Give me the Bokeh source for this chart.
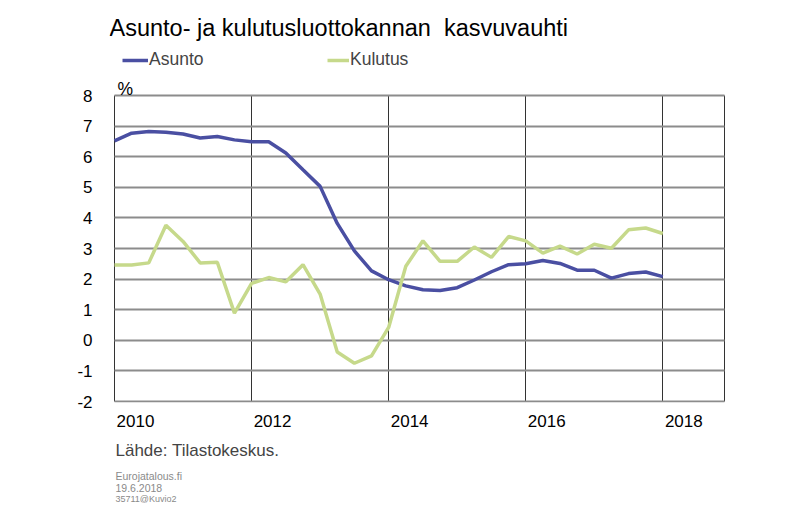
from bokeh.plotting import figure
from bokeh.models import Legend, LegendItem, FixedTicker, ColumnDataSource, Title, Label
from bokeh.embed import file_html
from bokeh.resources import INLINE

# quarterly observations 2010.0 ... 2018.0
years = [2010 + q / 4 for q in range(33)]
asunto = [6.52, 6.77, 6.82, 6.80, 6.74, 6.61, 6.66, 6.55, 6.49, 6.49, 6.12, 5.57,
          5.03, 3.82, 2.92, 2.27, 1.98, 1.78, 1.65, 1.63, 1.72, 1.97, 2.24, 2.47,
          2.50, 2.61, 2.51, 2.29, 2.29, 2.03, 2.18, 2.23, 2.08]
kulutus = [2.46, 2.46, 2.53, 3.76, 3.23, 2.53, 2.55, 0.89, 1.86, 2.05, 1.91, 2.47,
           1.51, -0.38, -0.75, -0.51, 0.42, 2.42, 3.25, 2.58, 2.58, 3.05, 2.71, 3.39,
           3.25, 2.85, 3.08, 2.82, 3.14, 3.01, 3.61, 3.67, 3.49]
x_ticks = [2010, 2012, 2014, 2016, 2018]
x_tick_labels = ["2010", "2012", "2014", "2016", "2018"]
y_ticks = [-2, -1, 0, 1, 2, 3, 4, 5, 6, 7, 8]
y_tick_labels = {-2: "-2", -1: "-1"}

# plot box extents (axis limits)
X_LO, X_HI = 2010, 2018.9
Y_LO, Y_HI = -2, 8

FONT = "Liberation Sans"
BLUE = "#4a4fa2"
GREEN = "#c6d98b"

# layout: box 610 px wide, 306 px tall; frame extended upward to hold title/legend
PPX = 610 / (X_HI - X_LO)
PPY = 306 / (Y_HI - Y_LO)
x_start = X_LO - 5 / PPX
x_end = X_HI + 2 / PPX
y_start = Y_LO - 1 / PPY
y_end = Y_HI + 95 / PPY
LABEL_SHIFT = 21 / PPX  # year labels sit just right of the year line

src = ColumnDataSource(dict(x=years, a=asunto, k=kulutus))

p = figure(width=790, height=520, output_backend="svg", toolbar_location=None,
           title=None, x_range=(x_start, x_end), y_range=(y_start, y_end),
           min_border_left=109, min_border_right=64, min_border_top=0, min_border_bottom=118)
p.background_fill_color = "white"
p.border_fill_color = "white"
p.outline_line_color = None

r_a = p.line("x", "a", source=src, line_color=BLUE, line_width=3.5)
r_k = p.line("x", "k", source=src, line_color=GREEN, line_width=3.5)

label_pos = [t + LABEL_SHIFT for t in x_ticks]
p.xaxis.ticker = FixedTicker(ticks=label_pos)
p.xaxis.major_label_overrides = dict(zip(label_pos, x_tick_labels))
p.yaxis.ticker = FixedTicker(ticks=y_ticks)
p.yaxis.major_label_overrides = y_tick_labels
for ax in (p.xaxis[0], p.yaxis[0]):
    ax.axis_line_color = None
    ax.major_tick_line_color = None
    ax.minor_tick_line_color = None
    ax.major_label_text_font = FONT
    ax.major_label_text_font_size = "17px"
    ax.major_label_text_color = "black"
p.xaxis.major_label_standoff = 6
p.yaxis.major_label_standoff = 11

p.xgrid.ticker = FixedTicker(ticks=x_ticks + [X_HI])
p.xgrid.cross_bounds = (Y_LO, Y_HI)
p.xgrid.grid_line_color = "#333333"
p.xgrid.grid_line_width = 1
p.ygrid.ticker = FixedTicker(ticks=y_ticks)
p.ygrid.cross_bounds = (X_LO, X_HI)
p.ygrid.grid_line_color = "#8c8c8c"
p.ygrid.grid_line_width = 2

def legend(item, renderer, x, glyph_w):
    lg = Legend(items=[LegendItem(label=item, renderers=[renderer])], location=(x, 332),
                padding=0, margin=0, border_line_color=None, background_fill_alpha=0,
                glyph_width=glyph_w, glyph_height=20, label_height=20, label_standoff=1,
                label_text_font=FONT, label_text_font_size="17.5px")
    p.add_layout(lg, "center")

legend("Asunto", r_a, 13, 26)
legend("Kulutus", r_k, 218, 22)

def lab(text, x, y, size):
    p.add_layout(Label(x=x, y=y, x_units="screen", y_units="screen", text=text,
                       text_font=FONT, text_font_size=size, text_color="black",
                       text_baseline="middle", text_align="left"))

lab("Asunto- ja kulutusluottokannan\u00a0 kasvuvauhti", 0, 375, "23.5px")
lab("%", 8, 314, "17.5px")

# below panel (first added = nearest the axis)
p.add_layout(Title(text="Lähde: Tilastokeskus.", align="left", offset=6, standoff=18,
                   text_font=FONT, text_font_size="17px", text_font_style="normal"), "below")
for t, fs, so in [("Eurojatalous.fi", "10.5px", -2), ("19.6.2018", "10.5px", 1.5),
                  ("35711@Kuvio2", "9px", -1)]:
    p.add_layout(Title(text=t, align="left", offset=6, standoff=so, text_color="#8a8a8a",
                       text_font=FONT, text_font_size=fs, text_font_style="normal"), "below")

open("out.html", "w").write(file_html(p, INLINE))
